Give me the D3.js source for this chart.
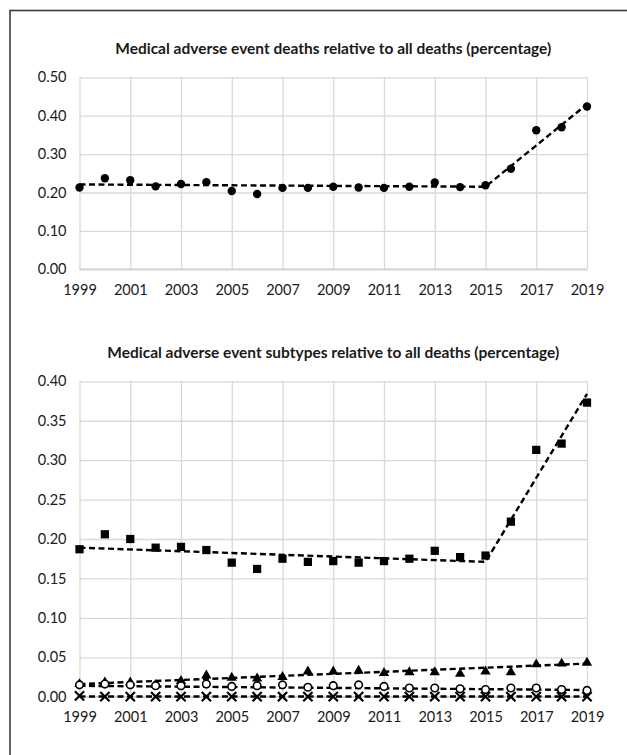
<!DOCTYPE html>
<html>
<head>
<meta charset="utf-8">
<script src="https://cdn.jsdelivr.net/npm/d3@7"></script>
<style>
  html, body { margin: 0; padding: 0; background: #fff; }
  svg { display: block; font-family: Lato, "Open Sans", sans-serif; }
</style>
</head>
<body>
<svg id="chart" width="627" height="755"></svg>
<script>
// Years on the horizontal axis
const years = [1999, 2000, 2001, 2002, 2003, 2004, 2005, 2006, 2007, 2008, 2009,
               2010, 2011, 2012, 2013, 2014, 2015, 2016, 2017, 2018, 2019];
const yearTicks = [1999, 2001, 2003, 2005, 2007, 2009, 2011, 2013, 2015, 2017, 2019];

// Panel 1: all medical adverse event deaths (% of all deaths)
const totalShare = [0.213, 0.237, 0.232, 0.216, 0.222, 0.227, 0.204, 0.196, 0.212, 0.212, 0.215,
                    0.213, 0.212, 0.215, 0.226, 0.214, 0.219, 0.262, 0.362, 0.370, 0.424];
const totalTrendYears = [1999, 2015, 2019];
const totalTrendValues = [0.221, 0.215, 0.430];
const topTicks = [0, 0.1, 0.2, 0.3, 0.4, 0.5];

// Panel 2: subtypes (% of all deaths)
const subtypeSquare = [0.187, 0.206, 0.200, 0.189, 0.190, 0.186, 0.170, 0.162, 0.175, 0.171, 0.172,
                       0.170, 0.172, 0.175, 0.185, 0.177, 0.179, 0.222, 0.313, 0.321, 0.373];
const subtypeTriangle = [0.016, 0.018, 0.018, 0.015, 0.020, 0.027, 0.024, 0.023, 0.025, 0.032, 0.032,
                         0.033, 0.030, 0.031, 0.031, 0.029, 0.032, 0.031, 0.041, 0.042, 0.043];
const subtypeCircle = [0.015, 0.016, 0.015, 0.014, 0.014, 0.016, 0.013, 0.014, 0.015, 0.012, 0.014,
                       0.015, 0.013, 0.011, 0.011, 0.010, 0.009, 0.011, 0.011, 0.009, 0.008];
const subtypeCross = [0.001, 0.000, 0.000, 0.000, 0.000, 0.000, 0.000, 0.000, 0.000, 0.000, 0.000,
                      0.000, 0.000, 0.000, 0.000, 0.000, 0.000, 0.000, 0.000, 0.000, 0.000];
const squareTrendYears = [1999, 2015, 2019];
const squareTrendValues = [0.189, 0.171, 0.384];
const triangleTrendYears = [1999, 2019];
const triangleTrendValues = [0.016, 0.042];
const circleTrendYears = [1999, 2019];
const circleTrendValues = [0.0138, 0.0085];
const crossTrendYears = [1999, 2019];
const crossTrendValues = [0.0003, 0.0003];
const bottomTicks = [0, 0.05, 0.10, 0.15, 0.20, 0.25, 0.30, 0.35, 0.40];

const titles = [
  "Medical adverse event deaths relative to all deaths (percentage)",
  "Medical adverse event subtypes relative to all deaths (percentage)"
];

const svg = d3.select("#chart");

// Outer frame
svg.append("rect")
  .attr("x", 10).attr("y", 10.5)
  .attr("width", 700).attr("height", 800)
  .attr("fill", "none")
  .attr("stroke", "#3a3a3a")
  .attr("stroke-width", 1.6);

const left = 79.5, right = 587;
const x = d3.scaleLinear().domain([1999, 2019]).range([left, right]);

// Cross marker for the d3.symbol generator
const symbolCrossX = {
  draw(ctx, size) {
    const r = Math.sqrt(size) / 2;
    ctx.moveTo(-r, -r); ctx.lineTo(r, r);
    ctx.moveTo(-r, r); ctx.lineTo(r, -r);
  }
};

function panel(cfg) {
  const g = svg.append("g");
  const y = d3.scaleLinear().domain(cfg.domain).range([cfg.bottom, cfg.top]);

  // Horizontal gridlines + value labels
  const yAxis = g.append("g")
    .attr("transform", `translate(${left},0)`)
    .call(d3.axisLeft(y).tickValues(cfg.ticks).tickFormat(d3.format(".2f"))
      .tickSize(-(right - left)).tickPadding(13));
  // Vertical gridlines + year labels
  const xAxis = g.append("g")
    .attr("transform", `translate(0,${cfg.bottom})`)
    .call(d3.axisBottom(x).tickValues(yearTicks).tickFormat(d3.format("d"))
      .tickSize(-(cfg.bottom - cfg.top)).tickPadding(15));

  [yAxis, xAxis].forEach(a => {
    a.select(".domain").remove();
    a.selectAll(".tick line").attr("stroke", "#d9d9d9").attr("stroke-width", 1.3);
    a.selectAll(".tick text")
      .attr("fill", "#1a1a1a")
      .style("font-family", "Lato, 'Open Sans', sans-serif")
      .style("font-size", "14.5px");
  });
  // Baseline slightly darker
  g.append("line")
    .attr("x1", left).attr("x2", right)
    .attr("y1", y(0)).attr("y2", y(0))
    .attr("stroke", "#cfcfcf").attr("stroke-width", 1.4);

  // Title
  g.append("text")
    .attr("x", (left + right) / 2)
    .attr("y", cfg.titleY)
    .attr("text-anchor", "middle")
    .attr("textLength", cfg.titleWidth)
    .attr("lengthAdjust", "spacingAndGlyphs")
    .style("font-weight", "bold")
    .style("font-size", "14.5px")
    .attr("fill", "#1a1a1a")
    .text(cfg.title);

  const line = d3.line().x(d => x(d[0])).y(d => y(d[1]));

  cfg.series.forEach(s => {
    g.append("path")
      .datum(d3.zip(s.trendYears, s.trendValues))
      .attr("d", line)
      .attr("fill", "none")
      .attr("stroke", "#000")
      .attr("stroke-width", 2.4)
      .attr("stroke-dasharray", "6,3.5");
  });

  cfg.series.forEach(s => {
    const sym = d3.symbol().type(s.type).size(s.size);
    g.append("g").selectAll("path")
      .data(d3.zip(years, s.values))
      .join("path")
      .attr("transform", d => `translate(${x(d[0])},${y(d[1])})`)
      .attr("d", sym)
      .attr("fill", s.fill)
      .attr("stroke", s.stroke)
      .attr("stroke-width", s.strokeWidth);
  });
}

panel({
  domain: [0, 0.5], top: 77.3, bottom: 269.3, ticks: topTicks,
  title: titles[0], titleY: 53.5, titleWidth: 436,
  series: [
    { values: totalShare, trendYears: totalTrendYears, trendValues: totalTrendValues,
      type: d3.symbolCircle, size: 55, fill: "#000", stroke: "none", strokeWidth: 0 }
  ]
});

panel({
  domain: [0, 0.4], top: 381.3, bottom: 696.7, ticks: bottomTicks,
  title: titles[1], titleY: 357.5, titleWidth: 452,
  series: [
    { values: subtypeSquare, trendYears: squareTrendYears, trendValues: squareTrendValues,
      type: d3.symbolSquare, size: 68, fill: "#000", stroke: "none", strokeWidth: 0 },
    { values: subtypeTriangle, trendYears: triangleTrendYears, trendValues: triangleTrendValues,
      type: d3.symbolTriangle, size: 46, fill: "#000", stroke: "none", strokeWidth: 0 },
    { values: subtypeCircle, trendYears: circleTrendYears, trendValues: circleTrendValues,
      type: d3.symbolCircle, size: 45, fill: "#fff", stroke: "#000", strokeWidth: 1.6 },
    { values: subtypeCross, trendYears: crossTrendYears, trendValues: crossTrendValues,
      type: symbolCrossX, size: 85, fill: "none", stroke: "#000", strokeWidth: 2.2 }
  ]
});
</script>
</body>
</html>
